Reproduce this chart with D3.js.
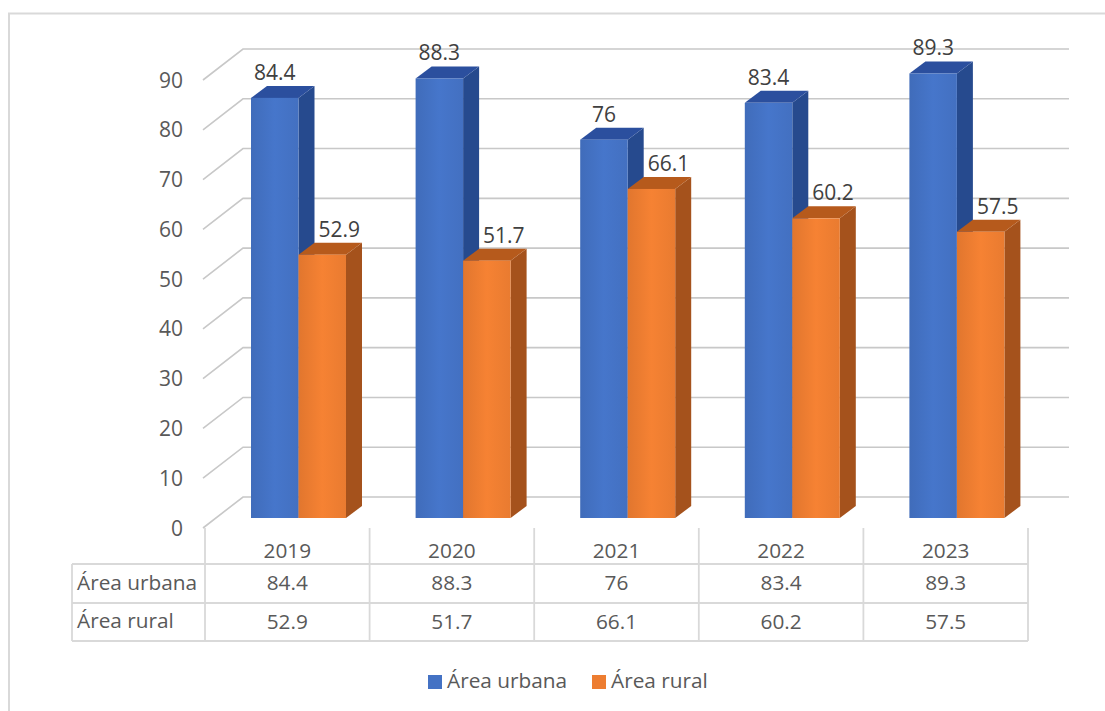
<!DOCTYPE html>
<html><head><meta charset="utf-8">
<script src="https://cdn.jsdelivr.net/npm/d3@7/dist/d3.min.js"></script>
<style>html,body{margin:0;padding:0;background:#fff}svg{display:block}text{font-family:"Open Sans",sans-serif}</style>
</head><body><script>
const years = ["2019","2020","2021","2022","2023"];
const urbana = [84.4,88.3,76,83.4,89.3];
const rural = [52.9,51.7,66.1,60.2,57.5];
const yTicks = [0,10,20,30,40,50,60,70,80,90];
const seriesNames = ["Área urbana","Área rural"];
const seriesColors = ["#4472c4","#ed7d31"];
const sideColors = ["#264a8e","#a5521c"];
const topColors = ["#2b4f9e","#b65a1c"];

const W=1105,H=711;
const svg=d3.select("body").append("svg").attr("width",W).attr("height",H);
const defs=svg.append("defs");
[0,1].forEach(i=>{
  const g=defs.append("linearGradient").attr("id","f"+i);
  const c=d3.color(seriesColors[i]);
  g.append("stop").attr("offset","0%").attr("stop-color",c.darker(0.15));
  g.append("stop").attr("offset","50%").attr("stop-color",c.brighter(0.1));
  g.append("stop").attr("offset","100%").attr("stop-color",c.darker(0.05));
});

// chart frame
svg.append("path").attr("d","M9,711V13.5H1105").attr("fill","none").attr("stroke","#d9d9d9").attr("stroke-width",2);

const y=d3.scaleLinear().domain([0,90]).range([528,80]);
const barY=d3.scaleLinear().domain([0,90]).range([518,70]);
const x0=d3.scaleBand().domain(years).range([205,1028]);
const x1=d3.scaleBand().domain([0,1]).range([0,95]);
const floor={dx:40,dy:-31}, bar={dx:16,dy:-12};

// walls
const grid=svg.append("g");
yTicks.forEach(t=>{
  grid.append("path").attr("fill","none").attr("stroke","#c8c8c8").attr("stroke-width",1.6)
    .attr("d",`M${203},${y(t)}L${203+floor.dx},${y(t)+floor.dy}H1069`);
});
svg.append("g").selectAll("text").data(yTicks).join("text")
  .attr("x",183).attr("y",d=>y(d)+7.5).attr("text-anchor","end")
  .attr("font-size",21).attr("fill","#595959").text(d=>d);

// bars
const bars=svg.append("g");
const bx=(yr,s)=>x0(yr)+46+x1(s);
[0,1].forEach(s=>{
  const vals=s?rural:urbana;
  years.forEach((yr,i)=>{
    const l=bx(yr,s), w=x1.bandwidth(), t=barY(vals[i]), b=barY(0);
    bars.append("path").attr("fill",sideColors[s])
      .attr("d",`M${l+w},${t}L${l+w+bar.dx},${t+bar.dy}V${b+bar.dy}L${l+w},${b}Z`);
    bars.append("path").attr("fill",topColors[s])
      .attr("d",`M${l},${t}L${l+bar.dx},${t+bar.dy}H${l+w+bar.dx}L${l+w},${t}Z`);
    bars.append("rect").attr("x",l).attr("y",t).attr("width",w).attr("height",b-t).attr("fill",`url(#f${s})`);
  });
});

// labels
[0,1].forEach(s=>{
  const vals=s?rural:urbana;
  years.forEach((yr,i)=>{
    svg.append("text").attr("x",bx(yr,s)+x1.bandwidth()/2+(s?17:0)).attr("y",barY(vals[i])-18)
      .attr("text-anchor","middle").attr("font-size",21).attr("fill","#404040").text(vals[i]);
  });
});

// data table
const rowY=[528,564,603,641];
const tb=svg.append("g").attr("stroke","#d9d9d9").attr("stroke-width",1.8);
rowY.slice(1).forEach(r=>tb.append("line").attr("x1",72).attr("x2",1028).attr("y1",r).attr("y2",r));
tb.append("line").attr("x1",72).attr("x2",72).attr("y1",564).attr("y2",641);
[...years.map(d=>x0(d)),1028].forEach(v=>tb.append("line").attr("x1",v).attr("x2",v).attr("y1",528).attr("y2",641));
const txt=(x,yy,t,a)=>svg.append("text").attr("x",x).attr("y",yy).attr("text-anchor",a).attr("font-size",20.8).attr("fill","#595959").text(t);
years.forEach((yr,i)=>{
  const c=x0(yr)+x0.bandwidth()/2;
  txt(c,558,yr,"middle"); txt(c,590,urbana[i],"middle"); txt(c,629,rural[i],"middle");
});
txt(77,590,seriesNames[0],"start"); txt(77,628,seriesNames[1],"start");

// legend
const lx=[428,592];
seriesNames.forEach((n,i)=>{
  svg.append("rect").attr("x",lx[i]).attr("y",675).attr("width",14).attr("height",14).attr("fill",seriesColors[i]);
  svg.append("text").attr("x",lx[i]+19).attr("y",688).attr("font-size",20.8).attr("fill","#595959").text(n);
});
</script></body></html>
